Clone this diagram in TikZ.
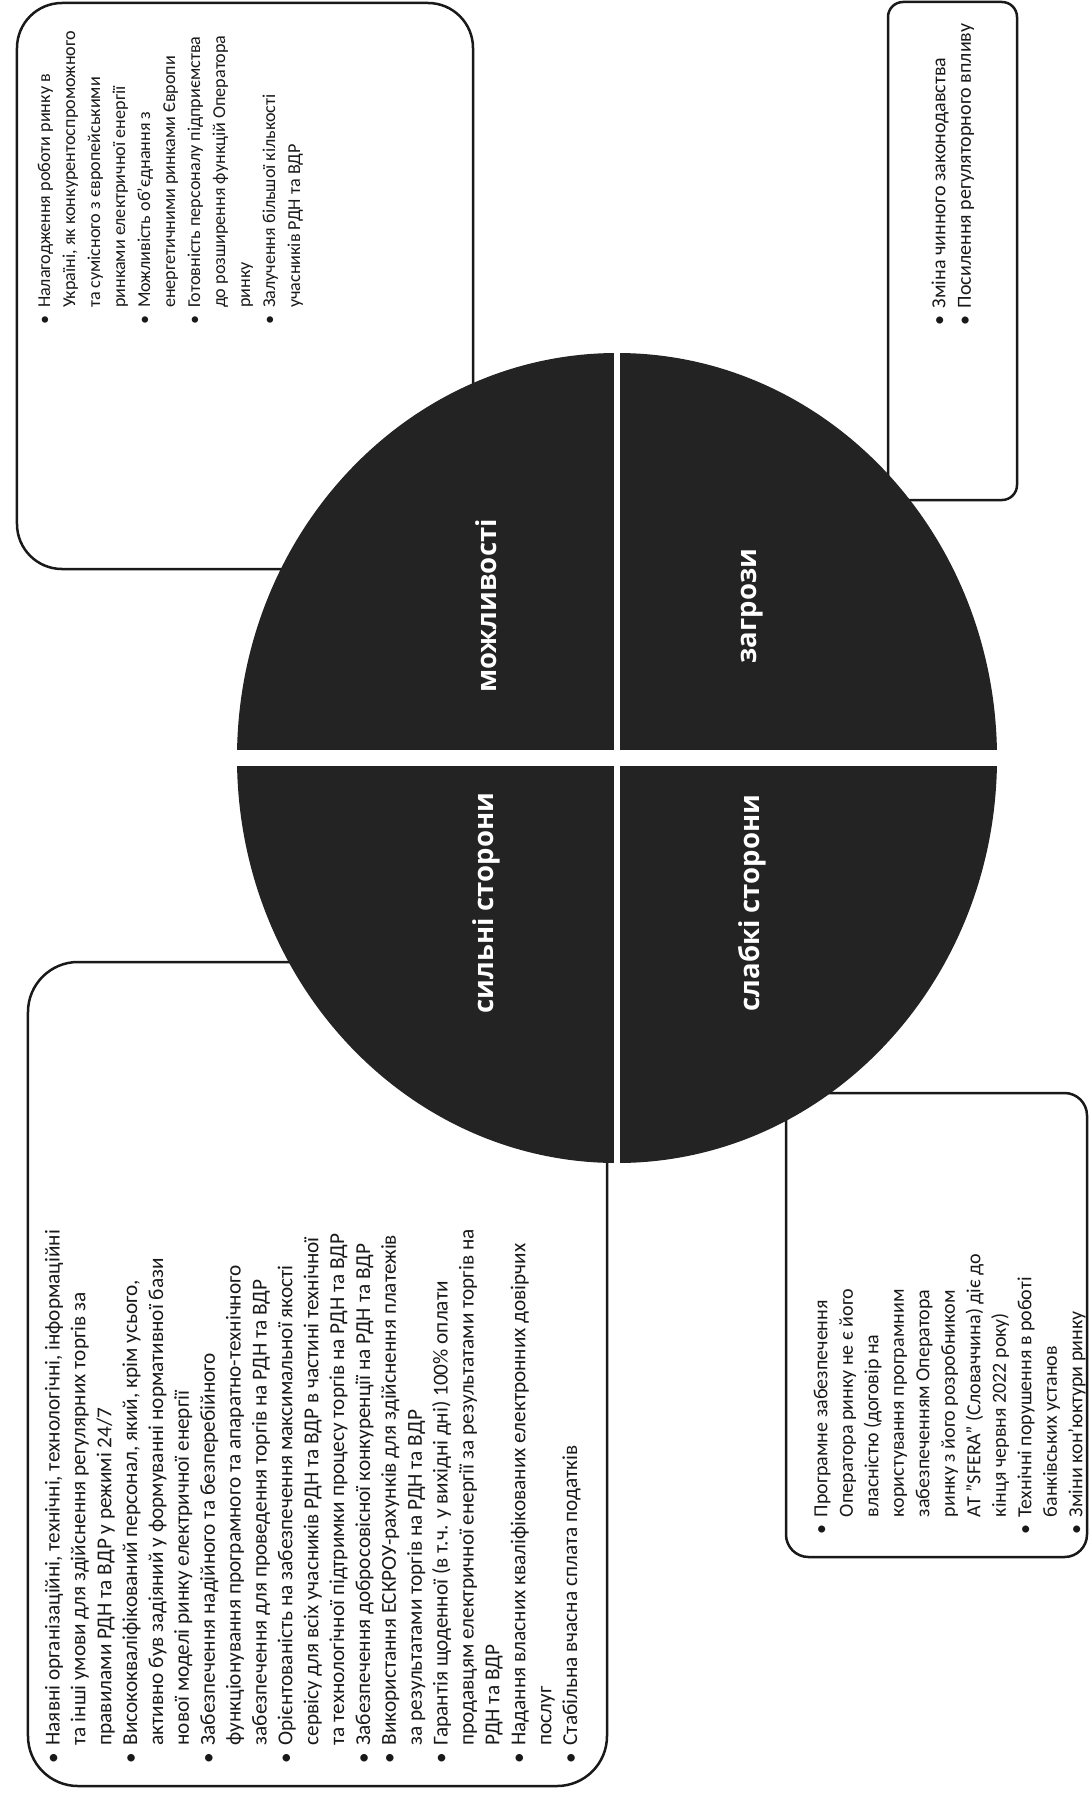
\documentclass[tikz,border=0pt]{standalone}
\usepackage{fontspec}
\setmainfont{Carlito}
\newfontfamily\lblfont{Open Sans}
\definecolor{quadfill}{RGB}{35,35,35}
\definecolor{ink}{RGB}{25,25,25}
\tikzset{
  panel/.style={draw=ink, line width=1pt, fill=white, inner sep=0pt},
  quad/.style={fill=quadfill},
  lbl/.style={text=white, font=\lblfont\bfseries\fontsize{11}{13}\selectfont, rotate=90, inner sep=0pt},
  txt/.style={text=ink, font=\fontsize{8}{10.2}\selectfont, rotate=90, anchor=north west, inner sep=0pt, align=left},
}
\newcommand{\bl}{\textbullet}
\begin{document}
\begin{tikzpicture}[x=0.4pt,y=-0.4pt]
\useasboundingbox (0,0) rectangle (1092,1793);
\fill[white] (0,0) rectangle (1092,1793);
% boxes
\node[panel, minimum width=182.4pt, minimum height=226.4pt, rounded corners=18pt] (oppbox) at (245,286) {};
\node[panel, minimum width=51.6pt, minimum height=199.2pt, rounded corners=6pt] (thrbox) at (952.5,251) {};
\node[panel, minimum width=231.6pt, minimum height=329.6pt, rounded corners=20pt] (strbox) at (317.5,1374) {};
\node[panel, minimum width=120.4pt, minimum height=185.6pt, rounded corners=9pt] (wkbox) at (936.5,1325) {};
% ellipse quadrants
\begin{scope}
\clip (617,758) ellipse [x radius=152pt, y radius=162pt];
\fill[quad] (0,0) rectangle (614,750);
\fill[quad] (620,0) rectangle (1092,750);
\fill[quad] (0,766) rectangle (614,1793);
\fill[quad] (620,766) rectangle (1092,1793);
\end{scope}
\node[lbl] (lo) at (486,606) {можливості};
\node[lbl] (lt) at (752,606) {загрози};
\node[lbl] (ls) at (486,903) {сильні сторони};
\node[lbl] (lw) at (752,903) {слабкі сторони};
% texts
\node[txt, font=\fontsize{7.25}{10}\selectfont] (topp) at (32,325) {\begin{tabular}{@{}l@{\hspace{3pt}}l@{}}
\bl & Налагодження роботи ринку в\\
 & Україні, як конкурентоспроможного\\
 & та сумісного з європейськими\\
 & ринками електричної енергії\\
\bl & Можливість об'єднання з\\
 & енергетичними ринками Європи\\
\bl & Готовність персоналу підприємства\\
 & до розширення функцій Оператора\\
 & ринку\\
\bl & Залучення більшої кількості\\
 & учасників РДН та ВДР
\end{tabular}};
\node[txt] (tthr) at (927,326) {\begin{tabular}{@{}l@{\hspace{3pt}}l@{}}
\bl & Зміна чинного законодавства\\
\bl & Посилення регуляторного впливу
\end{tabular}};
\node[txt, font=\fontsize{8.5}{10.35}\selectfont] (tstr) at (41,1764) {\begin{tabular}{@{}l@{\hspace{3pt}}l@{}}
\bl & Наявні організаційні, технічні, технологічні, інформаційні\\
 & та інші умови для здійснення регулярних торгів за\\
 & правилами РДН та ВДР у режимі 24/7\\
\bl & Висококваліфікований персонал, який, крім усього,\\
 & активно був задіяний у формуванні нормативної бази\\
 & нової моделі ринку електричної енергії\\
\bl & Забезпечення надійного та безперебійного\\
 & функціонування програмного та апаратно-технічного\\
 & забезпечення для проведення торгів на РДН та ВДР\\
\bl & Орієнтованість на забезпечення максимальної якості\\
 & сервісу для всіх учасників РДН та ВДР в частині технічної\\
 & та технологічної підтримки процесу торгів на РДН та ВДР\\
\bl & Забезпечення добросовісної конкуренції на РДН та ВДР\\
\bl & Використання ЕСКРОУ-рахунків для здійснення платежів\\
 & за результатами торгів на РДН та ВДР\\
\bl & Гарантія щоденної (в т.ч. у вихідні дні) 100\% оплати\\
 & продавцям електричної енергії за результатами торгів на\\
 & РДН та ВДР\\
\bl & Надання власних кваліфікованих електронних довірчих\\
 & послуг\\
\bl & Стабільна вчасна сплата податків
\end{tabular}};
\node[txt] (twk) at (809,1535) {\begin{tabular}{@{}l@{\hspace{3pt}}l@{}}
\bl & Програмне забезпечення\\
 & Оператора ринку не є його\\
 & власністю (договір на\\
 & користування програмним\\
 & забезпеченням Оператора\\
 & ринку з його розробником\\
 & АТ "SFERA" (Словаччина) діє до\\
 & кінця червня 2022 року)\\
\bl & Технічні порушення в роботі\\
 & банківських установ\\
\bl & Зміни кон'юктури ринку
\end{tabular}};
\end{tikzpicture}
\end{document}
